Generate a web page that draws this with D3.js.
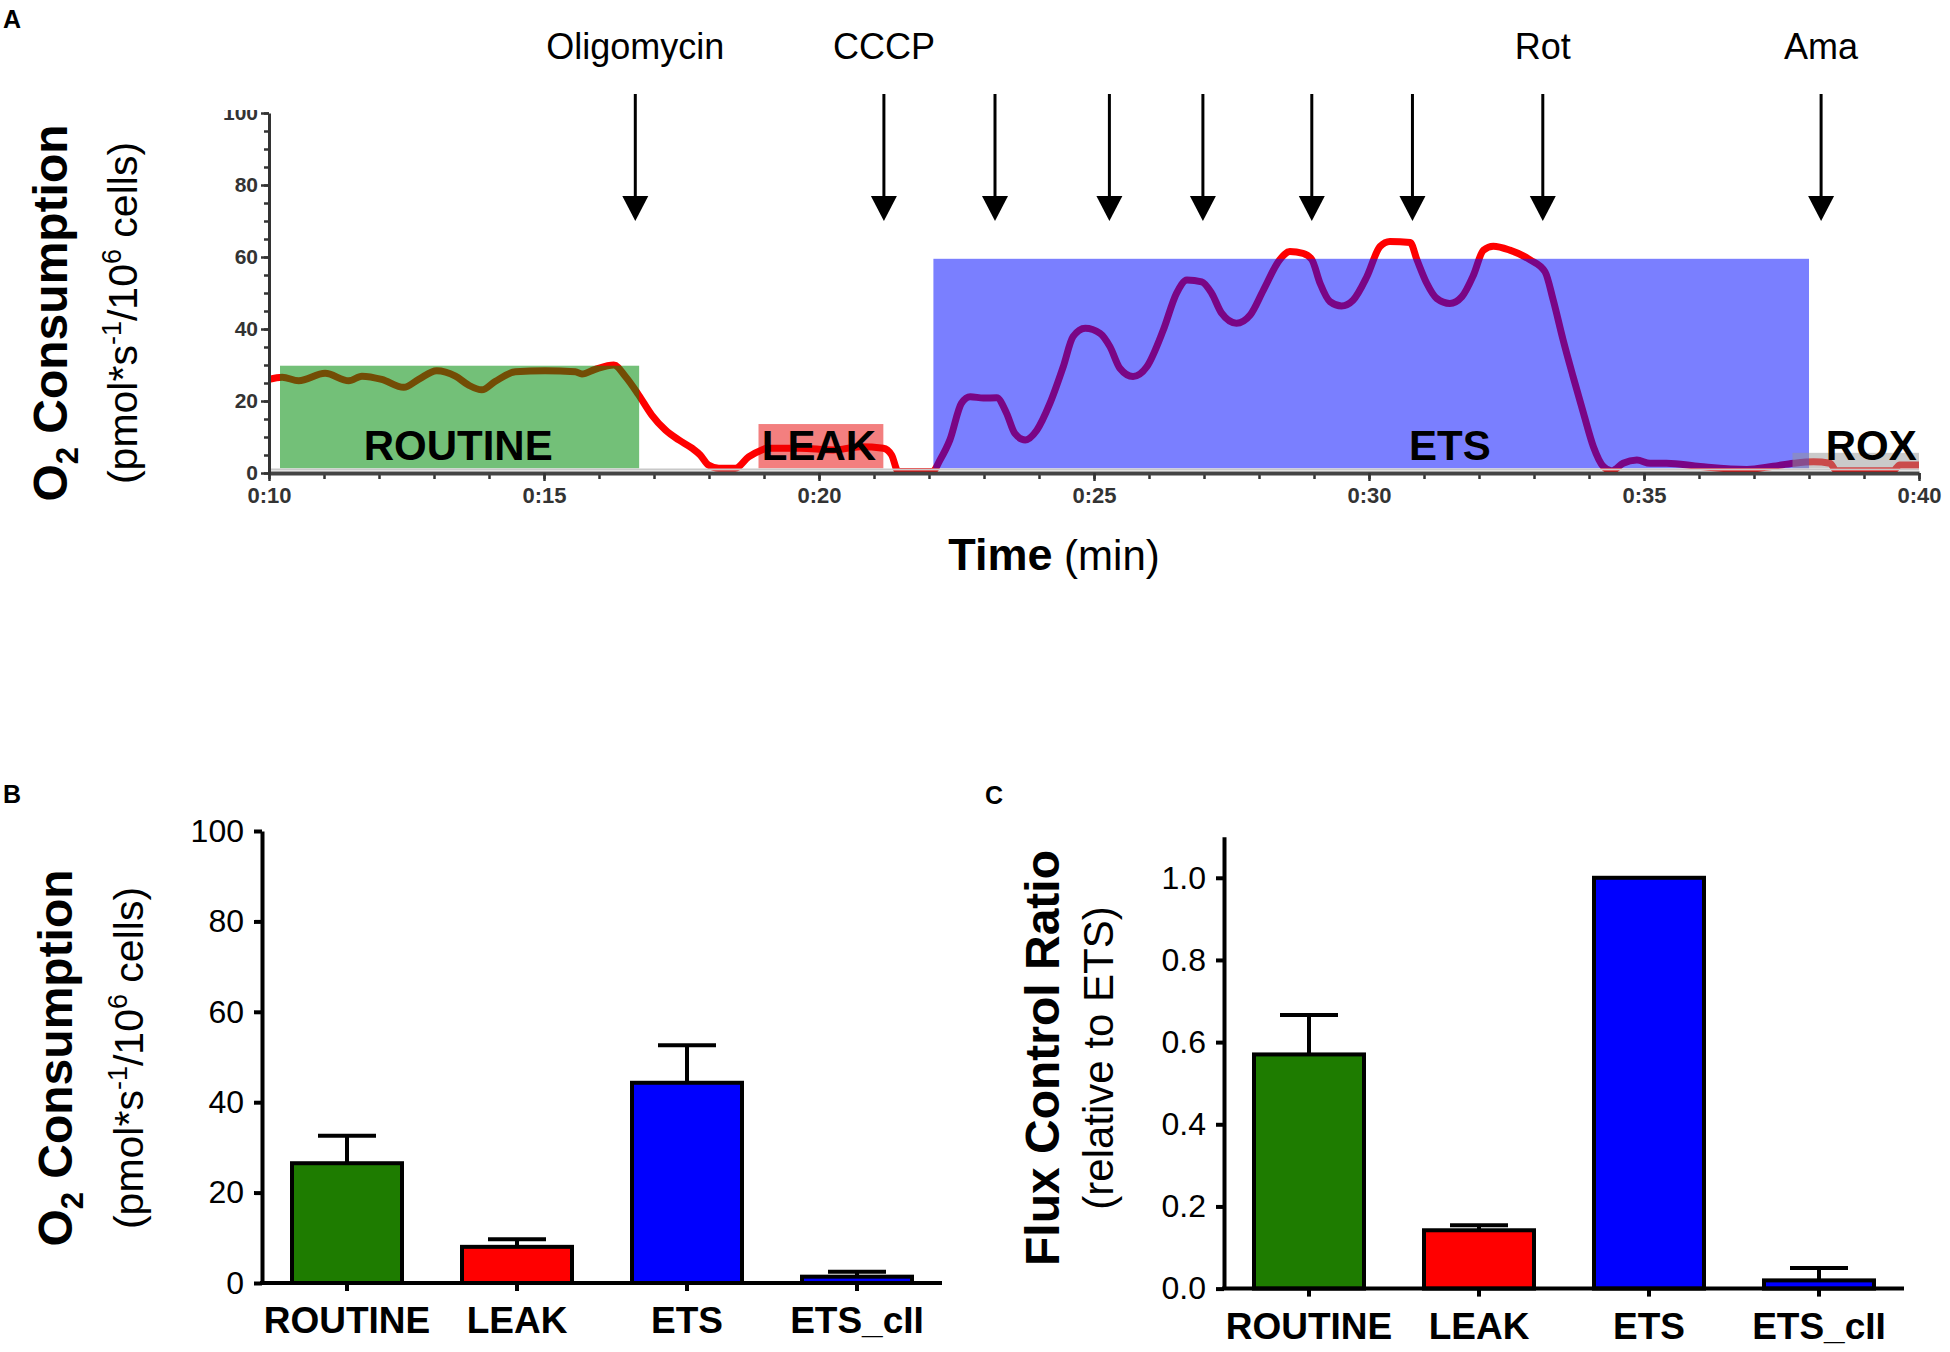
<!DOCTYPE html>
<html>
<head>
<meta charset="utf-8">
<script src="https://cdn.jsdelivr.net/npm/d3@7"></script>
<style>
  body { margin: 0; background: #fff; }
  svg { display: block; font-family: "Liberation Sans", Arial, sans-serif; }
</style>
</head>
<body>
<div id="chart"></div>
<script>
// ---- Panel A: oxygen consumption trace (time in min, pmol/s/10^6 cells)
const traceTime = [10.0, 10.24, 10.54, 11.02, 11.45, 11.69, 12.05, 12.45, 12.72, 13.05, 13.39, 13.63, 13.87, 14.11,
  14.48, 15.02, 15.57, 15.69, 15.93, 16.27, 16.48, 16.72, 16.96, 17.21, 17.45, 17.69, 17.84, 17.99, 18.18, 18.48,
  18.72, 18.96, 19.05, 19.65, 20.26, 20.75, 21.17, 21.32, 21.44, 22.07, 22.2, 22.38, 22.59, 22.75, 22.99, 23.23,
  23.41, 23.56, 23.75, 23.96, 24.2, 24.44, 24.62, 24.84, 25.11, 25.29, 25.47, 25.71, 25.96, 26.26, 26.5, 26.69,
  26.96, 27.14, 27.32, 27.59, 27.84, 28.08, 28.38, 28.56, 28.8, 28.96, 29.11, 29.29, 29.5, 29.71, 29.96, 30.2,
  30.38, 30.75, 30.87, 31.05, 31.23, 31.47, 31.69, 31.9, 32.08, 32.26, 32.56, 32.93, 33.2, 33.35, 33.53, 33.71,
  33.9, 34.08, 34.26, 34.41, 34.62, 34.87, 35.11, 35.41, 36.02, 36.87, 37.35, 37.72, 38.08, 38.38, 38.5, 39.53,
  39.65, 40.0];
const traceO2 = [26.0, 26.6, 25.6, 27.7, 25.6, 26.9, 26.0, 23.8, 26.0, 28.4, 26.9, 24.4, 23.1, 25.4,
  28.1, 28.4, 28.1, 27.5, 28.8, 30.0, 26.8, 21.7, 16.1, 11.9, 9.2, 6.9, 5.0, 2.2, 1.3, 1.3,
  4.5, 6.4, 6.9, 6.9, 6.4, 7.3, 6.9, 5.0, 0.4, 0.5, 3.6, 9.2, 19.4, 21.2, 20.8, 20.9,
  16.6, 11.0, 9.2, 11.9, 19.4, 29.5, 37.9, 40.2, 38.8, 35.1, 29.1, 26.8, 29.5, 39.7, 49.9, 53.6,
  53.1, 49.9, 44.4, 41.6, 43.9, 50.8, 59.3, 61.5, 61.0, 59.3, 52.7, 47.6, 46.4, 48.0, 54.5, 62.9,
  64.3, 64.0, 59.3, 52.7, 48.5, 47.1, 49.0, 55.0, 61.9, 63.0, 61.9, 59.2, 55.9, 48.0, 36.9, 26.8,
  16.6, 7.3, 1.8, 0.6, 2.7, 3.6, 2.7, 2.7, 1.8, 1.0, 1.9, 2.7, 3.1, 2.7, 0.6, 0.6,
  2.2, 2.2];

const phaseNames = ["ROUTINE", "LEAK", "ETS", "ROX"];
const phaseStart = [10.2, 18.9, 22.08, 37.7];
const phaseEnd = [16.73, 21.17, 38.0, 40.0];
const phaseTop = [29.8, 13.6, 59.5, 5.6];
const phaseBottom = [1.3, 1.3, 1.3, 1.3];
const phaseLabelTime = [13.44, 20.0, 31.47, 39.13];
const phaseColors = ["rgb(0,140,10)", "rgb(232,0,0)", "rgb(0,10,255)", "rgb(150,150,150)"];
const phaseOpacity = [0.55, 0.5, 0.52, 0.5];

const injectionTime = [16.66, 21.18, 23.2, 25.28, 26.98, 28.96, 30.79, 33.16, 38.22];
const injectionLabel = ["Oligomycin", "CCCP", "", "", "", "", "", "Rot", "Ama"];
const timeTicks = [10, 15, 20, 25, 30, 35, 40];
const o2TicksA = [0, 20, 40, 60, 80, 100];

// ---- Panels B and C: bar summaries
const categories = ["ROUTINE", "LEAK", "ETS", "ETS_cII"];
const barColors = ["#1e7c00", "#ff0000", "#0000ff", "#0000ff"];
const o2Mean = [26.5, 8.0, 44.3, 1.4];
const o2Sem = [6.1, 1.7, 8.3, 1.1];
const o2TicksB = [0, 20, 40, 60, 80, 100];
const fcrMean = [0.57, 0.142, 1.0, 0.02];
const fcrSem = [0.096, 0.012, 0, 0.03];
const fcrTicks = [0, 0.2, 0.4, 0.6, 0.8, 1.0];

const W = 1950, H = 1352;
const svg = d3.select('#chart').append('svg')
    .attr('width', W)
    .attr('height', H);

// panel letters
[["A", 3, 28], ["B", 3, 803], ["C", 985, 804]].forEach(([t, x, y]) => {
    svg.append('text').attr('x', x).attr('y', y)
        .attr('font-size', '25px').attr('font-weight', 'bold').text(t);
});

// rotated axis title helper
function yTitle(x, y, parts, size, weight) {
    const t = svg.append('text')
        .attr('transform', `translate(${x},${y}) rotate(-90)`)
        .attr('text-anchor', 'middle')
        .attr('font-size', size + 'px')
        .attr('font-weight', weight);
    parts.forEach(p => {
        const s = t.append('tspan').text(p.text);
        if (p.shift) {
            s.attr('font-size', Math.round(size * 0.65) + 'px').attr('dy', p.shift);
        }
        if (p.back) s.attr('dy', p.back);
    });
    return t;
}

function o2Titles(xBold, xReg, yc) {
    yTitle(xBold, yc, [
        { text: 'O' },
        { text: '2', shift: 11 },
        { text: ' Consumption', back: -11 }
    ], 48, 'bold');
    yTitle(xReg, yc, [
        { text: '(pmol*s' },
        { text: '-1', shift: -16 },
        { text: '/10', back: 16 },
        { text: '6', shift: -16 },
        { text: ' cells)', back: 16 }
    ], 41, 'normal');
}

// ================= Panel A =================
const xA = d3.scaleLinear().domain([10, 40]).range([269, 1919]);
const yA = d3.scaleLinear().domain([0, 100]).range([473, 113]);

o2Titles(67, 137, 313);

// trace
const line = d3.line()
    .x((d, i) => xA(traceTime[i]))
    .y(d => yA(d))
    .curve(d3.curveMonotoneX);

svg.append('path')
    .datum(traceO2)
    .attr('d', line)
    .attr('fill', 'none')
    .attr('stroke', '#ff0000')
    .attr('stroke-width', 7)
    .attr('stroke-linejoin', 'round');

// phase boxes drawn translucent over the trace
svg.append('g').selectAll('rect')
    .data(phaseNames)
    .join('rect')
    .attr('x', (d, i) => xA(phaseStart[i]))
    .attr('width', (d, i) => xA(phaseEnd[i]) - xA(phaseStart[i]))
    .attr('y', (d, i) => yA(phaseTop[i]))
    .attr('height', (d, i) => yA(phaseBottom[i]) - yA(phaseTop[i]))
    .attr('fill', (d, i) => phaseColors[i])
    .attr('fill-opacity', (d, i) => phaseOpacity[i]);

svg.append('g').selectAll('text')
    .data(phaseNames)
    .join('text')
    .attr('x', (d, i) => xA(phaseLabelTime[i]))
    .attr('y', 460)
    .attr('text-anchor', 'middle')
    .attr('font-size', '42px')
    .attr('font-weight', 'bold')
    .attr('fill', '#000')
    .text(d => d);

// x axis (minor every minute, major every 5)
svg.append('g')
    .attr('transform', 'translate(0,473)')
    .call(d3.axisBottom(xA).tickValues(d3.range(10, 41, 1)).tickSize(6).tickSizeOuter(0).tickFormat(''))
    .call(g => g.select('.domain').remove())
    .call(g => g.selectAll('line').attr('stroke', '#333').attr('stroke-width', 2.5));

svg.append('g')
    .attr('transform', 'translate(0,473)')
    .call(d3.axisBottom(xA).tickValues(timeTicks).tickSize(8).tickSizeOuter(0).tickPadding(6)
        .tickFormat(d => '0:' + d))
    .call(g => g.select('.domain').attr('stroke', '#444').attr('stroke-width', 4))
    .call(g => g.selectAll('line').attr('stroke', '#333').attr('stroke-width', 2.5))
    .call(g => g.selectAll('text')
        .attr('font-family', '"Liberation Sans", Arial, sans-serif')
        .attr('font-size', '22px').attr('font-weight', 'bold').attr('fill', '#333'));

svg.append('line')
    .attr('x1', xA(10)).attr('x2', xA(40))
    .attr('y1', 469.5).attr('y2', 469.5)
    .attr('stroke', '#c8c8c8').attr('stroke-width', 2);

// y axis (minor every 5, top label clipped as in the source)
svg.append('defs').append('clipPath').attr('id', 'clipA')
    .append('rect').attr('x', -300).attr('y', 110).attr('width', 320).attr('height', 400);

svg.append('g')
    .attr('transform', 'translate(269,0)')
    .call(d3.axisLeft(yA).tickValues(d3.range(0, 101, 5)).tickSize(5).tickSizeOuter(0).tickFormat(''))
    .call(g => g.select('.domain').remove())
    .call(g => g.selectAll('line').attr('stroke', '#333').attr('stroke-width', 2.5));

svg.append('g')
    .attr('transform', 'translate(269,0)')
    .attr('clip-path', 'url(#clipA)')
    .call(d3.axisLeft(yA).tickValues(o2TicksA).tickSize(8).tickSizeOuter(0).tickPadding(3))
    .call(g => g.select('.domain').attr('stroke', '#333').attr('stroke-width', 3))
    .call(g => g.selectAll('line').attr('stroke', '#333').attr('stroke-width', 2.5))
    .call(g => g.selectAll('text')
        .attr('font-family', '"Liberation Sans", Arial, sans-serif')
        .attr('font-size', '21px').attr('font-weight', 'bold').attr('fill', '#333'));

// x title
const tt = svg.append('text')
    .attr('x', 1054).attr('y', 570)
    .attr('text-anchor', 'middle');
tt.append('tspan').attr('font-size', '45px').attr('font-weight', 'bold').text('Time');
tt.append('tspan').attr('font-size', '42px').text(' (min)');

// injection arrows
const arrows = svg.append('g').selectAll('g')
    .data(injectionTime)
    .join('g')
    .attr('transform', d => `translate(${xA(d)},0)`);

arrows.append('line')
    .attr('y1', 94).attr('y2', 200)
    .attr('stroke', '#000').attr('stroke-width', 3);

arrows.append('path')
    .attr('d', 'M-13,196 L13,196 L0,221 Z')
    .attr('fill', '#000');

arrows.append('text')
    .attr('y', 59)
    .attr('text-anchor', 'middle')
    .attr('font-size', '36px')
    .text((d, i) => injectionLabel[i]);

// ================= Panels B & C =================
function barPanel(opt) {
    const x = d3.scaleBand().domain(categories).range([opt.x0, opt.x1]);
    const y = d3.scaleLinear().domain(opt.domain).range([opt.y0, opt.yTop]);
    const cx = c => x(c) + x.bandwidth() / 2;
    const g = svg.append('g');

    // bars
    g.selectAll('rect')
        .data(categories)
        .join('rect')
        .attr('x', c => cx(c) - 55)
        .attr('width', 110)
        .attr('y', (c, i) => y(opt.mean[i]))
        .attr('height', (c, i) => y(0) - y(opt.mean[i]))
        .attr('fill', (c, i) => barColors[i])
        .attr('stroke', '#000')
        .attr('stroke-width', 4);

    // upper error bars
    const eb = g.selectAll('g.err')
        .data(categories.filter((c, i) => opt.sem[i] > 0))
        .join('g').attr('class', 'err');
    eb.append('line')
        .attr('x1', c => cx(c)).attr('x2', c => cx(c))
        .attr('y1', c => y(opt.mean[categories.indexOf(c)]))
        .attr('y2', c => { const i = categories.indexOf(c); return y(opt.mean[i] + opt.sem[i]); })
        .attr('stroke', '#000').attr('stroke-width', 4);
    eb.append('line')
        .attr('x1', c => cx(c) - 29).attr('x2', c => cx(c) + 29)
        .attr('y1', c => { const i = categories.indexOf(c); return y(opt.mean[i] + opt.sem[i]); })
        .attr('y2', c => { const i = categories.indexOf(c); return y(opt.mean[i] + opt.sem[i]); })
        .attr('stroke', '#000').attr('stroke-width', 4);

    // x axis
    svg.append('g')
        .attr('transform', `translate(0,${opt.y0})`)
        .call(d3.axisBottom(x).tickSize(8).tickSizeOuter(0).tickPadding(16))
        .call(a => a.select('.domain').attr('stroke', '#000').attr('stroke-width', 4)
            .attr('d', `M${opt.x0 - 2},0H${opt.x1}`))
        .call(a => a.selectAll('line').attr('stroke', '#000').attr('stroke-width', 4))
        .call(a => a.selectAll('text')
            .attr('font-family', '"Liberation Sans", Arial, sans-serif')
            .attr('font-size', '37px').attr('font-weight', 'bold').attr('fill', '#000'));

    // y axis
    svg.append('g')
        .attr('transform', `translate(${opt.x0},0)`)
        .call(d3.axisLeft(y).tickValues(opt.ticks).tickSize(8).tickSizeOuter(0).tickPadding(10)
            .tickFormat(opt.format))
        .call(a => a.select('.domain').attr('stroke', '#000').attr('stroke-width', 4))
        .call(a => a.selectAll('line').attr('stroke', '#000').attr('stroke-width', 4))
        .call(a => a.selectAll('text')
            .attr('font-family', '"Liberation Sans", Arial, sans-serif')
            .attr('font-size', '32px').attr('fill', '#000'));
}

barPanel({
    x0: 262, x1: 942, y0: 1283, yTop: 831,
    domain: [0, 100], ticks: o2TicksB, format: d3.format('d'),
    mean: o2Mean, sem: o2Sem
});
o2Titles(72, 143, 1058);

barPanel({
    x0: 1224, x1: 1904, y0: 1288.6, yTop: 836.7,
    domain: [0, 1.1], ticks: fcrTicks, format: d3.format('.1f'),
    mean: fcrMean, sem: fcrSem
});
yTitle(1059, 1058, [{ text: 'Flux Control Ratio' }], 48, 'bold');
yTitle(1113, 1058, [{ text: '(relative to ETS)' }], 42, 'normal');
</script>
</body>
</html>
